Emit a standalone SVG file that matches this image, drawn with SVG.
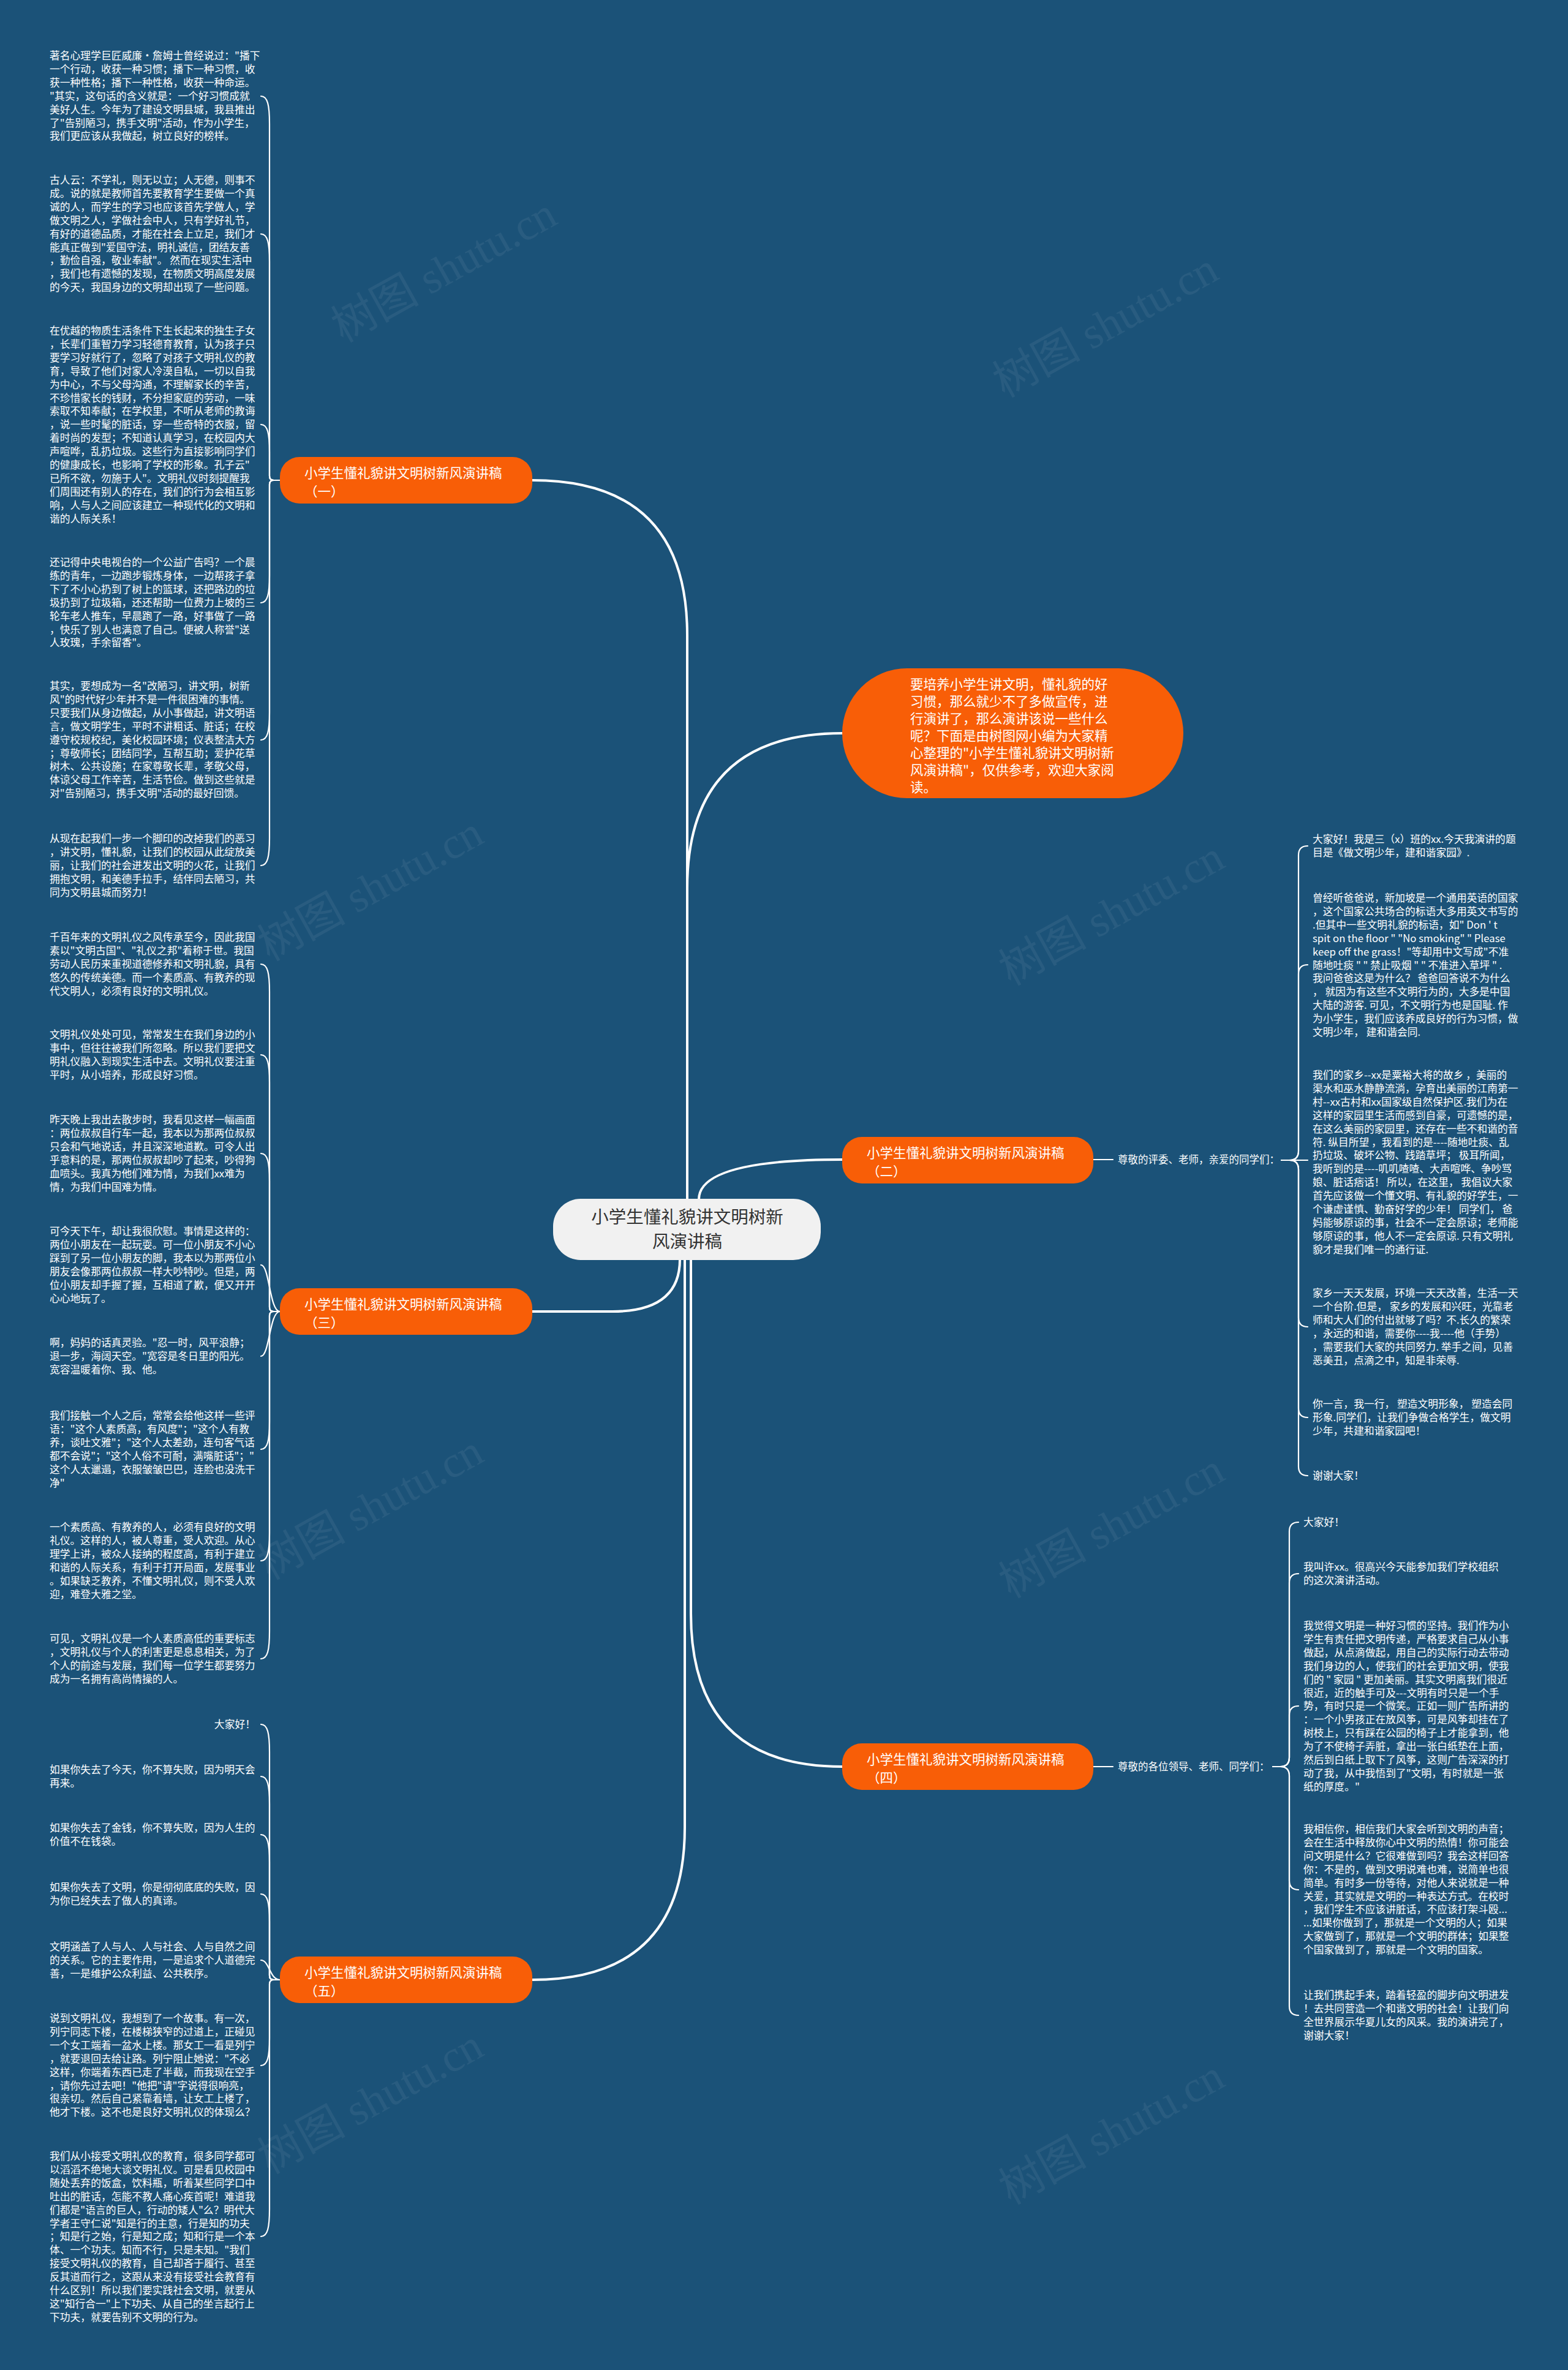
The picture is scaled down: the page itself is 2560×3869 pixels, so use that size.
<svg xmlns="http://www.w3.org/2000/svg" width="2560" height="3869" viewBox="0 0 2560 3869">
<style>
.t{font-family:"Noto Sans CJK SC","Liberation Sans",sans-serif;font-size:16.8px;fill:#ffffff}
.lb{font-family:"Noto Sans CJK SC","Liberation Sans",sans-serif;font-size:16.5px;fill:#ffffff}
.nt{font-family:"Noto Sans CJK SC","Liberation Sans",sans-serif;font-size:21.5px;fill:#ffffff}
.rt{font-family:"Noto Sans CJK SC","Liberation Sans",sans-serif;font-size:28.5px;fill:#333333}
.wm{font-family:"Liberation Serif","Noto Sans CJK SC",serif;font-size:72px;fill:#ffffff;opacity:0.06}
.main{stroke:#ffffff;stroke-width:4;fill:none;stroke-linecap:round}
.sub{stroke:#ffffff;stroke-width:2.2;fill:none;stroke-linecap:round}
.br{fill:#f85e07}
</style>
<rect x="0" y="0" width="2560" height="3869" fill="#1b5278"/>

<g id="watermarks">
<text class="wm" transform="translate(560,560) rotate(-29)">树图 shutu.cn</text>
<text class="wm" transform="translate(1640,650) rotate(-29)">树图 shutu.cn</text>
<text class="wm" transform="translate(440,1570) rotate(-29)">树图 shutu.cn</text>
<text class="wm" transform="translate(1650,1610) rotate(-29)">树图 shutu.cn</text>
<text class="wm" transform="translate(440,2580) rotate(-29)">树图 shutu.cn</text>
<text class="wm" transform="translate(1650,2610) rotate(-29)">树图 shutu.cn</text>
<text class="wm" transform="translate(440,3550) rotate(-29)">树图 shutu.cn</text>
<text class="wm" transform="translate(1650,3600) rotate(-29)">树图 shutu.cn</text>
</g>

<g id="connectors">
<path class="main" d="M869 784 Q1122 784 1122 1037 L1122 1958"/>
<path class="main" d="M1375 1197 Q1122 1197 1122 1450 L1122 1958"/>
<path class="main" d="M1375 1893 Q1141 1893 1141 1958"/>
<path class="main" d="M869 2141 L1000 2141 Q1110 2141 1110 2056"/>
<path class="main" d="M1375 2884 Q1128 2884 1128 2634 L1128 2056"/>
<path class="main" d="M869 3232 Q1118 3232 1118 2983 L1118 2056"/>
<path class="sub" d="M1785 1893 H1817"/>
<path class="sub" d="M1785 2884 H1817"/>
<!-- (一) children -->
<path class="sub" d="M457 784 H447 Q440 784 440 777 V202 C440 172 437 157 426 157"/>
<path class="sub" d="M457 784 H447 Q440 784 440 777 V427 C440 397 437 382 426 382"/>
<path class="sub" d="M457 784 H447 Q440 784 440 777 V738 C440 708 437 693 426 693"/>
<path class="sub" d="M457 784 H447 Q440 784 440 791 V939 C440 969 437 984 426 984"/>
<path class="sub" d="M457 784 H447 Q440 784 440 791 V1163 C440 1193 437 1208 426 1208"/>
<path class="sub" d="M457 784 H447 Q440 784 440 791 V1368 C440 1398 437 1413 426 1413"/>
<!-- (三) children -->
<path class="sub" d="M457 2141 H447 Q440 2141 440 2134 V1619 C440 1589 437 1574 426 1574"/>
<path class="sub" d="M457 2141 H447 Q440 2141 440 2134 V1767 C440 1737 437 1722 426 1722"/>
<path class="sub" d="M457 2141 H447 Q440 2141 440 2134 V1928 C440 1898 437 1883 426 1883"/>
<path class="sub" d="M457 2141 C440 2141 440 2065 426 2065"/>
<path class="sub" d="M457 2141 C440 2141 440 2214 426 2214"/>
<path class="sub" d="M457 2141 H447 Q440 2141 440 2148 V2321 C440 2351 437 2366 426 2366"/>
<path class="sub" d="M457 2141 H447 Q440 2141 440 2148 V2503 C440 2533 437 2548 426 2548"/>
<path class="sub" d="M457 2141 H447 Q440 2141 440 2148 V2663 C440 2693 437 2708 426 2708"/>
<!-- (五) children -->
<path class="sub" d="M457 3232 H447 Q440 3232 440 3225 V2860 C440 2830 437 2815 426 2815"/>
<path class="sub" d="M457 3232 H447 Q440 3232 440 3225 V2945 C440 2915 437 2900 426 2900"/>
<path class="sub" d="M457 3232 H447 Q440 3232 440 3225 V3040 C440 3010 437 2995 426 2995"/>
<path class="sub" d="M457 3232 H447 Q440 3232 440 3225 V3137 C440 3107 437 3092 426 3092"/>
<path class="sub" d="M457 3232 C440 3232 440 3200 426 3200"/>
<path class="sub" d="M457 3232 H447 Q440 3232 440 3239 V3327 C440 3357 437 3372 426 3372"/>
<path class="sub" d="M457 3232 H447 Q440 3232 440 3239 V3606 C440 3636 437 3651 426 3651"/>
<!-- (二) children -->
<path class="sub" d="M2092 1894 H2105 Q2120 1894 2120 1879 V1396 Q2120 1381 2135 1381"/>
<path class="sub" d="M2092 1894 H2105 Q2120 1894 2120 1879 V1590 Q2120 1575 2135 1575"/>
<path class="sub" d="M2092 1894 H2135"/>
<path class="sub" d="M2092 1894 H2105 Q2120 1894 2120 1909 V2151 Q2120 2166 2135 2166"/>
<path class="sub" d="M2092 1894 H2105 Q2120 1894 2120 1909 V2299 Q2120 2314 2135 2314"/>
<path class="sub" d="M2092 1894 H2105 Q2120 1894 2120 1909 V2394 Q2120 2409 2135 2409"/>
<!-- (四) children -->
<path class="sub" d="M2078 2884 H2090 Q2105 2884 2105 2869 V2500 Q2105 2485 2120 2485"/>
<path class="sub" d="M2078 2884 H2090 Q2105 2884 2105 2869 V2584 Q2105 2569 2120 2569"/>
<path class="sub" d="M2078 2884 H2090 Q2105 2884 2105 2869 V2800 Q2105 2785 2120 2785"/>
<path class="sub" d="M2078 2884 H2090 Q2105 2884 2105 2899 V3070 Q2105 3085 2120 3085"/>
<path class="sub" d="M2078 2884 H2090 Q2105 2884 2105 2899 V3275 Q2105 3290 2120 3290"/>
</g>

<g id="root">
<rect x="903" y="1957" width="437" height="100" rx="45" fill="#f1f1f1"/>
<text class="rt" text-anchor="middle" x="1122" y="1997">小学生懂礼貌讲文明树新</text>
<text class="rt" text-anchor="middle" x="1122" y="2037">风演讲稿</text>
</g>

<g id="intro">
<rect x="1375" y="1091" width="557" height="212" rx="106" class="br"/>
<text class="nt" x="1486" y="1125"><tspan x="1486">要培养小学生讲文明，懂礼貌的好</tspan><tspan x="1486" dy="28">习惯，那么就少不了多做宣传，进</tspan><tspan x="1486" dy="28">行演讲了，那么演讲该说一些什么</tspan><tspan x="1486" dy="28">呢？下面是由树图网小编为大家精</tspan><tspan x="1486" dy="28">心整理的"小学生懂礼貌讲文明树新</tspan><tspan x="1486" dy="28">风演讲稿"，仅供参考，欢迎大家阅</tspan><tspan x="1486" dy="28">读。</tspan></text>
</g>

<g id="branch1">
<rect x="457" y="746" width="412" height="76" rx="32" class="br"/>
<text class="nt" x="497" y="780"><tspan x="497">小学生懂礼貌讲文明树新风演讲稿</tspan><tspan x="497" dy="30">（一）</tspan></text>
</g>
<g id="branch2">
<rect x="1375" y="1856" width="410" height="76" rx="32" class="br"/>
<text class="nt" x="1415" y="1890"><tspan x="1415">小学生懂礼貌讲文明树新风演讲稿</tspan><tspan x="1415" dy="30">（二）</tspan></text>
</g>
<g id="branch3">
<rect x="457" y="2103" width="412" height="76" rx="32" class="br"/>
<text class="nt" x="497" y="2137"><tspan x="497">小学生懂礼貌讲文明树新风演讲稿</tspan><tspan x="497" dy="30">（三）</tspan></text>
</g>
<g id="branch4">
<rect x="1375" y="2846" width="410" height="76" rx="32" class="br"/>
<text class="nt" x="1415" y="2880"><tspan x="1415">小学生懂礼貌讲文明树新风演讲稿</tspan><tspan x="1415" dy="30">（四）</tspan></text>
</g>
<g id="branch5">
<rect x="457" y="3194" width="412" height="76" rx="32" class="br"/>
<text class="nt" x="497" y="3228"><tspan x="497">小学生懂礼貌讲文明树新风演讲稿</tspan><tspan x="497" dy="30">（五）</tspan></text>
</g>

<g id="label2"><text class="lb" x="1825" y="1899">尊敬的评委、老师，亲爱的同学们：</text></g>
<g id="label4"><text class="lb" x="1825" y="2890">尊敬的各位领导、老师、同学们：</text></g>

<g id="L1"><text class="t" x="81" y="97"><tspan x="81">著名心理学巨匠威廉·詹姆士曾经说过："播下</tspan><tspan x="81" dy="21.9">一个行动，收获一种习惯；播下一种习惯，收</tspan><tspan x="81" dy="21.9">获一种性格；播下一种性格，收获一种命运。</tspan><tspan x="81" dy="21.9">"其实，这句话的含义就是：一个好习惯成就</tspan><tspan x="81" dy="21.9">美好人生。今年为了建设文明县城，我县推出</tspan><tspan x="81" dy="21.9">了"告别陋习，携手文明"活动，作为小学生，</tspan><tspan x="81" dy="21.9">我们更应该从我做起，树立良好的榜样。</tspan></text></g>

<g id="L2"><text class="t" x="81" y="300"><tspan x="81">古人云：不学礼，则无以立；人无德，则事不</tspan><tspan x="81" dy="21.9">成。说的就是教师首先要教育学生要做一个真</tspan><tspan x="81" dy="21.9">诚的人，而学生的学习也应该首先学做人，学</tspan><tspan x="81" dy="21.9">做文明之人，学做社会中人，只有学好礼节，</tspan><tspan x="81" dy="21.9">有好的道德品质，才能在社会上立足，我们才</tspan><tspan x="81" dy="21.9">能真正做到"爱国守法，明礼诚信，团结友善</tspan><tspan x="81" dy="21.9">，勤俭自强，敬业奉献"。 然而在现实生活中</tspan><tspan x="81" dy="21.9">，我们也有遗憾的发现，在物质文明高度发展</tspan><tspan x="81" dy="21.9">的今天，我国身边的文明却出现了一些问题。</tspan></text></g>

<g id="L3"><text class="t" x="81" y="546"><tspan x="81">在优越的物质生活条件下生长起来的独生子女</tspan><tspan x="81" dy="21.9">，长辈们重智力学习轻德育教育，认为孩子只</tspan><tspan x="81" dy="21.9">要学习好就行了，忽略了对孩子文明礼仪的教</tspan><tspan x="81" dy="21.9">育，导致了他们对家人冷漠自私，一切以自我</tspan><tspan x="81" dy="21.9">为中心，不与父母沟通，不理解家长的辛苦，</tspan><tspan x="81" dy="21.9">不珍惜家长的钱财，不分担家庭的劳动，一味</tspan><tspan x="81" dy="21.9">索取不知奉献；在学校里，不听从老师的教诲</tspan><tspan x="81" dy="21.9">，说一些时髦的脏话，穿一些奇特的衣服，留</tspan><tspan x="81" dy="21.9">着时尚的发型；不知道认真学习，在校园内大</tspan><tspan x="81" dy="21.9">声喧哗，乱扔垃圾。这些行为直接影响同学们</tspan><tspan x="81" dy="21.9">的健康成长，也影响了学校的形象。孔子云"</tspan><tspan x="81" dy="21.9">已所不欲，勿施于人"。文明礼仪时刻提醒我</tspan><tspan x="81" dy="21.9">们周围还有别人的存在，我们的行为会相互影</tspan><tspan x="81" dy="21.9">响，人与人之间应该建立一种现代化的文明和</tspan><tspan x="81" dy="21.9">谐的人际关系！</tspan></text></g>

<g id="L4"><text class="t" x="81" y="924"><tspan x="81">还记得中央电视台的一个公益广告吗？一个晨</tspan><tspan x="81" dy="21.9">练的青年，一边跑步锻炼身体，一边帮孩子拿</tspan><tspan x="81" dy="21.9">下了不小心扔到了树上的篮球，还把路边的垃</tspan><tspan x="81" dy="21.9">圾扔到了垃圾箱，还还帮助一位费力上坡的三</tspan><tspan x="81" dy="21.9">轮车老人推车，早晨跑了一路，好事做了一路</tspan><tspan x="81" dy="21.9">，快乐了别人也满意了自己。便被人称誉"送</tspan><tspan x="81" dy="21.9">人玫瑰，手余留香"。</tspan></text></g>

<g id="L5"><text class="t" x="81" y="1126"><tspan x="81">其实，要想成为一名"改陋习，讲文明，树新</tspan><tspan x="81" dy="21.9">风"的时代好少年并不是一件很困难的事情。</tspan><tspan x="81" dy="21.9">只要我们从身边做起，从小事做起，讲文明语</tspan><tspan x="81" dy="21.9">言，做文明学生，平时不讲粗话、脏话；在校</tspan><tspan x="81" dy="21.9">遵守校规校纪，美化校园环境；仪表整洁大方</tspan><tspan x="81" dy="21.9">；尊敬师长；团结同学，互帮互助；爱护花草</tspan><tspan x="81" dy="21.9">树木、公共设施；在家尊敬长辈，孝敬父母，</tspan><tspan x="81" dy="21.9">体谅父母工作辛苦，生活节俭。做到这些就是</tspan><tspan x="81" dy="21.9">对"告别陋习，携手文明"活动的最好回馈。</tspan></text></g>

<g id="L6"><text class="t" x="81" y="1375"><tspan x="81">从现在起我们一步一个脚印的改掉我们的恶习</tspan><tspan x="81" dy="21.9">，讲文明，懂礼貌，让我们的校园从此绽放美</tspan><tspan x="81" dy="21.9">丽，让我们的社会迸发出文明的火花，让我们</tspan><tspan x="81" dy="21.9">拥抱文明，和美德手拉手，结伴同去陋习，共</tspan><tspan x="81" dy="21.9">同为文明县城而努力！</tspan></text></g>

<g id="L7"><text class="t" x="81" y="1536"><tspan x="81">千百年来的文明礼仪之风传承至今，因此我国</tspan><tspan x="81" dy="21.9">素以"文明古国"、"礼仪之邦"着称于世。我国</tspan><tspan x="81" dy="21.9">劳动人民历来重视道德修养和文明礼貌，具有</tspan><tspan x="81" dy="21.9">悠久的传统美德。而一个素质高、有教养的现</tspan><tspan x="81" dy="21.9">代文明人，必须有良好的文明礼仪。</tspan></text></g>

<g id="L8"><text class="t" x="81" y="1695"><tspan x="81">文明礼仪处处可见，常常发生在我们身边的小</tspan><tspan x="81" dy="21.9">事中，但往往被我们所忽略。所以我们要把文</tspan><tspan x="81" dy="21.9">明礼仪融入到现实生活中去。文明礼仪要注重</tspan><tspan x="81" dy="21.9">平时，从小培养，形成良好习惯。</tspan></text></g>

<g id="L9"><text class="t" x="81" y="1834"><tspan x="81">昨天晚上我出去散步时，我看见这样一幅画面</tspan><tspan x="81" dy="21.9">：两位叔叔自行车一起，我本以为那两位叔叔</tspan><tspan x="81" dy="21.9">只会和气地说话，并且深深地道歉。可令人出</tspan><tspan x="81" dy="21.9">乎意料的是，那两位叔叔却吵了起来，吵得狗</tspan><tspan x="81" dy="21.9">血喷头。我真为他们难为情，为我们xx难为</tspan><tspan x="81" dy="21.9">情，为我们中国难为情。</tspan></text></g>

<g id="L10"><text class="t" x="81" y="2016"><tspan x="81">可今天下午，却让我很欣慰。事情是这样的：</tspan><tspan x="81" dy="21.9">两位小朋友在一起玩耍。可一位小朋友不小心</tspan><tspan x="81" dy="21.9">踩到了另一位小朋友的脚，我本以为那两位小</tspan><tspan x="81" dy="21.9">朋友会像那两位叔叔一样大吵特吵。但是，两</tspan><tspan x="81" dy="21.9">位小朋友却手握了握，互相道了歉，便又开开</tspan><tspan x="81" dy="21.9">心心地玩了。</tspan></text></g>

<g id="L11"><text class="t" x="81" y="2198"><tspan x="81">啊，妈妈的话真灵验。"忍一时，风平浪静；</tspan><tspan x="81" dy="21.9">退一步，海阔天空。"宽容是冬日里的阳光。</tspan><tspan x="81" dy="21.9">宽容温暖着你、我、他。</tspan></text></g>

<g id="L12"><text class="t" x="81" y="2317"><tspan x="81">我们接触一个人之后，常常会给他这样一些评</tspan><tspan x="81" dy="21.9">语："这个人素质高，有风度"；"这个人有教</tspan><tspan x="81" dy="21.9">养，谈吐文雅"；"这个人太差劲，连句客气话</tspan><tspan x="81" dy="21.9">都不会说"；"这个人俗不可耐，满嘴脏话"；"</tspan><tspan x="81" dy="21.9">这个人太邋遢，衣服皱皱巴巴，连脸也没洗干</tspan><tspan x="81" dy="21.9">净"</tspan></text></g>

<g id="L13"><text class="t" x="81" y="2499"><tspan x="81">一个素质高、有教养的人，必须有良好的文明</tspan><tspan x="81" dy="21.9">礼仪。这样的人，被人尊重，受人欢迎。从心</tspan><tspan x="81" dy="21.9">理学上讲，被众人接纳的程度高，有利于建立</tspan><tspan x="81" dy="21.9">和谐的人际关系，有利于打开局面，发展事业</tspan><tspan x="81" dy="21.9">。如果缺乏教养，不懂文明礼仪，则不受人欢</tspan><tspan x="81" dy="21.9">迎，难登大雅之堂。</tspan></text></g>

<g id="L14"><text class="t" x="81" y="2681"><tspan x="81">可见，文明礼仪是一个人素质高低的重要标志</tspan><tspan x="81" dy="21.9">，文明礼仪与个人的利害更是息息相关，为了</tspan><tspan x="81" dy="21.9">个人的前途与发展，我们每一位学生都要努力</tspan><tspan x="81" dy="21.9">成为一名拥有高尚情操的人。</tspan></text></g>

<g id="L15"><text class="t" x="417" y="2821" text-anchor="end">大家好！</text></g>

<g id="L16"><text class="t" x="81" y="2895"><tspan x="81">如果你失去了今天，你不算失败，因为明天会</tspan><tspan x="81" dy="21.9">再来。</tspan></text></g>

<g id="L17"><text class="t" x="81" y="2990"><tspan x="81">如果你失去了金钱，你不算失败，因为人生的</tspan><tspan x="81" dy="21.9">价值不在钱袋。</tspan></text></g>

<g id="L18"><text class="t" x="81" y="3087"><tspan x="81">如果你失去了文明，你是彻彻底底的失败，因</tspan><tspan x="81" dy="21.9">为你已经失去了做人的真谛。</tspan></text></g>

<g id="L19"><text class="t" x="81" y="3184"><tspan x="81">文明涵盖了人与人、人与社会、人与自然之间</tspan><tspan x="81" dy="21.9">的关系。它的主要作用，一是追求个人道德完</tspan><tspan x="81" dy="21.9">善，一是维护公众利益、公共秩序。</tspan></text></g>

<g id="L20"><text class="t" x="81" y="3301"><tspan x="81">说到文明礼仪，我想到了一个故事。有一次，</tspan><tspan x="81" dy="21.9">列宁同志下楼，在楼梯狭窄的过道上，正碰见</tspan><tspan x="81" dy="21.9">一个女工端着一盆水上楼。那女工一看是列宁</tspan><tspan x="81" dy="21.9">，就要退回去给让路。列宁阻止她说："不必</tspan><tspan x="81" dy="21.9">这样，你端着东西已走了半截，而我现在空手</tspan><tspan x="81" dy="21.9">，请你先过去吧！"他把"请"字说得很响亮，</tspan><tspan x="81" dy="21.9">很亲切。然后自己紧靠着墙，让女工上楼了，</tspan><tspan x="81" dy="21.9">他才下楼。这不也是良好文明礼仪的体现么？</tspan></text></g>

<g id="L21"><text class="t" x="81" y="3526"><tspan x="81">我们从小接受文明礼仪的教育，很多同学都可</tspan><tspan x="81" dy="21.9">以滔滔不绝地大谈文明礼仪。可是看见校园中</tspan><tspan x="81" dy="21.9">随处丢弃的饭盒，饮料瓶，听着某些同学口中</tspan><tspan x="81" dy="21.9">吐出的脏话，怎能不教人痛心疾首呢！难道我</tspan><tspan x="81" dy="21.9">们都是"语言的巨人，行动的矮人"么？明代大</tspan><tspan x="81" dy="21.9">学者王守仁说"知是行的主意，行是知的功夫</tspan><tspan x="81" dy="21.9">；知是行之始，行是知之成；知和行是一个本</tspan><tspan x="81" dy="21.9">体、一个功夫。知而不行，只是未知。"我们</tspan><tspan x="81" dy="21.9">接受文明礼仪的教育，自己却吝于履行、甚至</tspan><tspan x="81" dy="21.9">反其道而行之，这跟从来没有接受社会教育有</tspan><tspan x="81" dy="21.9">什么区别！所以我们要实践社会文明，就要从</tspan><tspan x="81" dy="21.9">这"知行合一"上下功夫、从自己的坐言起行上</tspan><tspan x="81" dy="21.9">下功夫，就要告别不文明的行为。</tspan></text></g>

<g id="R1"><text class="t" x="2143" y="1376"><tspan x="2143">大家好！我是三（x）班的xx.今天我演讲的题</tspan><tspan x="2143" dy="21.9">目是《做文明少年，建和谐家园》.</tspan></text></g>

<g id="R2"><text class="t" x="2143" y="1472"><tspan x="2143">曾经听爸爸说，新加坡是一个通用英语的国家</tspan><tspan x="2143" dy="21.9">，这个国家公共场合的标语大多用英文书写的</tspan><tspan x="2143" dy="21.9">.但其中一些文明礼貌的标语，如" Don ' t</tspan><tspan x="2143" dy="21.9">spit on the floor " "No smoking" " Please</tspan><tspan x="2143" dy="21.9">keep off the grass！"等却用中文写成"不准</tspan><tspan x="2143" dy="21.9">随地吐痰 " " 禁止吸烟 "  " 不准进入草坪 " .</tspan><tspan x="2143" dy="21.9">我问爸爸这是为什么？ 爸爸回答说不为什么</tspan><tspan x="2143" dy="21.9">， 就因为有这些不文明行为的，大多是中国</tspan><tspan x="2143" dy="21.9">大陆的游客. 可见，不文明行为也是国耻. 作</tspan><tspan x="2143" dy="21.9">为小学生，我们应该养成良好的行为习惯，做</tspan><tspan x="2143" dy="21.9">文明少年， 建和谐会同.</tspan></text></g>

<g id="R3"><text class="t" x="2143" y="1761"><tspan x="2143">我们的家乡--xx是粟裕大将的故乡 ，美丽的</tspan><tspan x="2143" dy="21.9">渠水和巫水静静流淌，孕育出美丽的江南第一</tspan><tspan x="2143" dy="21.9">村--xx古村和xx国家级自然保护区.我们为在</tspan><tspan x="2143" dy="21.9">这样的家园里生活而感到自豪，可遗憾的是，</tspan><tspan x="2143" dy="21.9">在这么美丽的家园里，还存在一些不和谐的音</tspan><tspan x="2143" dy="21.9">符. 纵目所望 ，我看到的是----随地吐痰、乱</tspan><tspan x="2143" dy="21.9">扔垃圾、破坏公物、践踏草坪； 极耳所闻，</tspan><tspan x="2143" dy="21.9">我听到的是----叽叽喳喳、大声喧哗、争吵骂</tspan><tspan x="2143" dy="21.9">娘、脏话痞话！ 所以，在这里， 我倡议大家</tspan><tspan x="2143" dy="21.9">首先应该做一个懂文明、有礼貌的好学生，一</tspan><tspan x="2143" dy="21.9">个谦虚谨慎、勤奋好学的少年！ 同学们， 爸</tspan><tspan x="2143" dy="21.9">妈能够原谅的事，社会不一定会原谅；老师能</tspan><tspan x="2143" dy="21.9">够原谅的事，他人不一定会原谅. 只有文明礼</tspan><tspan x="2143" dy="21.9">貌才是我们唯一的通行证.</tspan></text></g>

<g id="R4"><text class="t" x="2143" y="2117"><tspan x="2143">家乡一天天发展，环境一天天改善，生活一天</tspan><tspan x="2143" dy="21.9">一个台阶.但是， 家乡的发展和兴旺，光靠老</tspan><tspan x="2143" dy="21.9">师和大人们的付出就够了吗？不.长久的繁荣</tspan><tspan x="2143" dy="21.9">，永远的和谐，需要你----我----他（手势）</tspan><tspan x="2143" dy="21.9">，需要我们大家的共同努力. 举手之间，见善</tspan><tspan x="2143" dy="21.9">恶美丑，点滴之中，知是非荣辱.</tspan></text></g>

<g id="R5"><text class="t" x="2143" y="2298"><tspan x="2143">你一言，我一行， 塑造文明形象， 塑造会同</tspan><tspan x="2143" dy="21.9">形象.同学们，让我们争做合格学生，做文明</tspan><tspan x="2143" dy="21.9">少年，共建和谐家园吧！</tspan></text></g>

<g id="R6"><text class="t" x="2143" y="2415">谢谢大家！</text></g>

<g id="Q1"><text class="t" x="2128" y="2491">大家好！</text></g>

<g id="Q2"><text class="t" x="2128" y="2564"><tspan x="2128">我叫许xx。很高兴今天能参加我们学校组织</tspan><tspan x="2128" dy="21.9">的这次演讲活动。</tspan></text></g>

<g id="Q3"><text class="t" x="2128" y="2660"><tspan x="2128">我觉得文明是一种好习惯的坚持。我们作为小</tspan><tspan x="2128" dy="21.9">学生有责任把文明传递，严格要求自己从小事</tspan><tspan x="2128" dy="21.9">做起，从点滴做起，用自己的实际行动去带动</tspan><tspan x="2128" dy="21.9">我们身边的人，使我们的社会更加文明，使我</tspan><tspan x="2128" dy="21.9">们的 " 家园 " 更加美丽。其实文明离我们很近</tspan><tspan x="2128" dy="21.9">很近，近的触手可及---文明有时只是一个手</tspan><tspan x="2128" dy="21.9">势，有时只是一个微笑。正如一则广告所讲的</tspan><tspan x="2128" dy="21.9">：一个小男孩正在放风筝，可是风筝却挂在了</tspan><tspan x="2128" dy="21.9">树枝上，只有踩在公园的椅子上才能拿到，他</tspan><tspan x="2128" dy="21.9">为了不使椅子弄脏，拿出一张白纸垫在上面，</tspan><tspan x="2128" dy="21.9">然后到白纸上取下了风筝，这则广告深深的打</tspan><tspan x="2128" dy="21.9">动了我，从中我悟到了"文明，有时就是一张</tspan><tspan x="2128" dy="21.9">纸的厚度。"</tspan></text></g>

<g id="Q4"><text class="t" x="2128" y="2992"><tspan x="2128">我相信你，相信我们大家会听到文明的声音；</tspan><tspan x="2128" dy="21.9">会在生活中释放你心中文明的热情！你可能会</tspan><tspan x="2128" dy="21.9">问文明是什么？它很难做到吗？我会这样回答</tspan><tspan x="2128" dy="21.9">你：不是的，做到文明说难也难，说简单也很</tspan><tspan x="2128" dy="21.9">简单。有时多一份等待，对他人来说就是一种</tspan><tspan x="2128" dy="21.9">关爱，其实就是文明的一种表达方式。在校时</tspan><tspan x="2128" dy="21.9">，我们学生不应该讲脏话，不应该打架斗殴...</tspan><tspan x="2128" dy="21.9">...如果你做到了，那就是一个文明的人；如果</tspan><tspan x="2128" dy="21.9">大家做到了，那就是一个文明的群体；如果整</tspan><tspan x="2128" dy="21.9">个国家做到了，那就是一个文明的国家。</tspan></text></g>

<g id="Q5"><text class="t" x="2128" y="3263"><tspan x="2128">让我们携起手来，踏着轻盈的脚步向文明进发</tspan><tspan x="2128" dy="21.9">！去共同营造一个和谐文明的社会！让我们向</tspan><tspan x="2128" dy="21.9">全世界展示华夏儿女的风采。我的演讲完了，</tspan><tspan x="2128" dy="21.9">谢谢大家！</tspan></text></g>
</svg>
